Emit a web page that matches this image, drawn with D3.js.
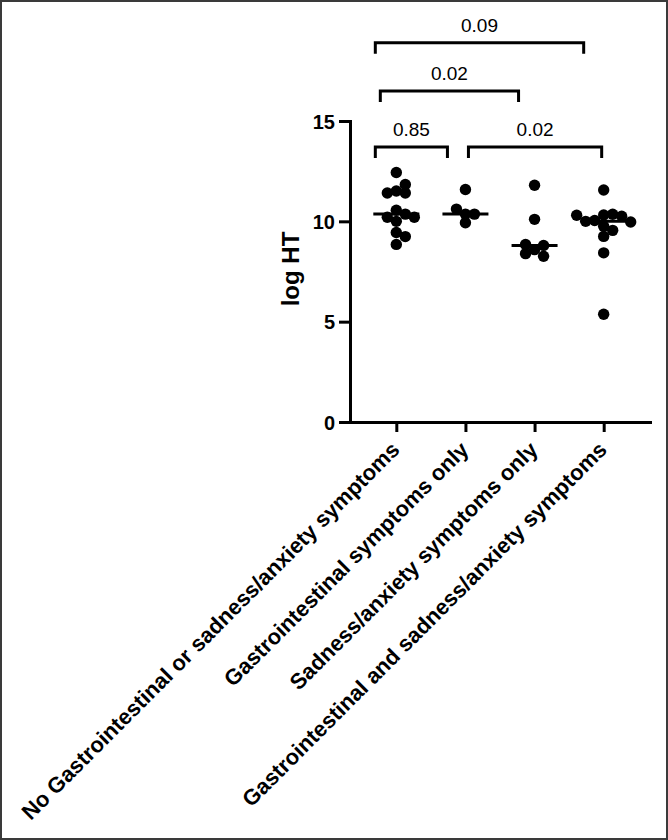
<!DOCTYPE html>
<html>
<head>
<meta charset="utf-8">
<title>log HT by symptom group</title>
<script src="https://d3js.org/d3.v7.min.js"></script>
<style>
	body { margin: 0; background: #fff; }
	svg { display: block; }
	text { font-family: "Liberation Sans", Arial, sans-serif; fill: #000; }
</style>
</head>
<body>
<div id="chart"></div>
<script>

// categories along the x axis
var categories = [
	"No Gastrointestinal or sadness/anxiety symptoms",
	"Gastrointestinal symptoms only",
	"Sadness/anxiety symptoms only",
	"Gastrointestinal and sadness/anxiety symptoms"
];

// log HT values per group (entry order)
var noSymptoms   = [12.43, 11.51, 11.41, 11.41, 11.84, 10.0, 10.36, 10.55, 10.2, 10.2, 9.44, 9.24, 8.85];
var giOnly       = [11.59, 10.36, 10.36, 10.61, 9.93];
var anxietyOnly  = [11.8, 10.1, 8.59, 8.80, 8.85, 8.39, 8.26];
var bothSymptoms = [11.56, 10.32, 10.35, 10.04, 10.25, 10.0, 9.97, 9.75, 9.55, 9.25, 8.43, 5.37, 10.3];

var groups = [noSymptoms, giOnly, anxietyOnly, bothSymptoms];

var yTicks = [0, 5, 10, 15];

// comparisons (group index pairs), p values and bracket height in log HT units
var pairs = [[0, 1], [1, 3], [0, 2], [0, 3]];
var pValues = ["0.85", "0.02", "0.02", "0.09"];
var bracketLevels = [13.7, 13.7, 16.5, 18.9];

// ---- layout ----
var W = 668, H = 840;

var svg = d3.select("#chart").append("svg")
	.attr("width", W)
	.attr("height", H);

// outer frame
svg.append("rect")
	.attr("x", 1).attr("y", 1)
	.attr("width", W - 2).attr("height", H - 2)
	.attr("fill", "#fff")
	.attr("stroke", "#3a3a3a")
	.attr("stroke-width", 2);

var x = d3.scalePoint()
	.domain(categories)
	.range([350, 650])
	.padding(0.67);

var y = d3.scaleLinear()
	.domain([0, 15])
	.range([422, 121]);

// y axis
var yAxis = svg.append("g")
	.attr("transform", "translate(350,0)")
	.call(d3.axisLeft(y).tickValues(yTicks).tickSize(11).tickSizeOuter(0).tickPadding(4));

// x axis
var xAxis = svg.append("g")
	.attr("transform", "translate(0,422)")
	.call(d3.axisBottom(x).tickSize(10).tickSizeOuter(0));

[yAxis, xAxis].forEach(function(ax) {
	ax.attr("font-family", null).attr("font-size", null);
	ax.selectAll("path, line").attr("stroke", "#000").attr("stroke-width", 3);
	ax.select(".domain").attr("stroke-linecap", "square");
});

yAxis.selectAll("text")
	.style("font-size", "20px")
	.style("font-weight", "bold")
	.attr("dy", "0.36em");

xAxis.selectAll("text")
	.style("font-size", "22px")
	.style("font-weight", "bold")
	.attr("text-anchor", "end")
	.attr("x", 4)
	.attr("y", 29)
	.attr("dy", 0)
	.attr("transform", "rotate(-45,4,29)");

// y label
svg.append("text")
	.attr("transform", "translate(299,269) rotate(-90)")
	.attr("text-anchor", "middle")
	.style("font-size", "24px")
	.style("font-weight", "bold")
	.text("log HT");

// simple swarm: place each point at the nearest free horizontal slot
function swarm(vals, cx) {
	var step = 9, minDist = 8.5, placed = [];
	vals.forEach(function(v) {
		var py = y(v);
		for (var k = 0; k < 40; k++) {
			var n = Math.ceil(k / 2) * (k % 2 ? 1 : -1);
			var px = cx + n * step;
			var ok = placed.every(function(p) {
				return Math.hypot(p.x - px, p.y - py) >= minDist;
			});
			if (ok) { placed.push({x: px, y: py}); break; }
		}
	});
	return placed;
}

groups.forEach(function(vals, i) {
	var cx = x(categories[i]);
	var pts = swarm(vals, cx);

	svg.append("g").selectAll("circle")
		.data(pts)
		.enter()
		.append("circle")
			.attr("cx", function(d) { return d.x; })
			.attr("cy", function(d) { return d.y; })
			.attr("r", 5.7)
			.attr("fill", "#000");

	// median line
	var m = d3.median(vals);
	svg.append("line")
		.attr("x1", cx - 23).attr("x2", cx + 23)
		.attr("y1", y(m)).attr("y2", y(m))
		.attr("stroke", "#000")
		.attr("stroke-width", 3);
});

// significance brackets (small end offsets so brackets do not touch)
var bracketInset = [[-21, -18], [3, -2], [-16, -16], [-21, -20]];

pairs.forEach(function(pr, i) {
	var x1 = x(categories[pr[0]]) + bracketInset[i][0];
	var x2 = x(categories[pr[1]]) + bracketInset[i][1];
	var yl = y(bracketLevels[i]);

	svg.append("path")
		.attr("d", "M" + x1 + "," + (yl + 11) + "V" + yl + "H" + x2 + "V" + (yl + 11))
		.attr("fill", "none")
		.attr("stroke", "#000")
		.attr("stroke-width", 3);

	svg.append("text")
		.attr("x", (x1 + x2) / 2)
		.attr("y", yl - 11)
		.attr("text-anchor", "middle")
		.style("font-size", "19px")
		.text(pValues[i]);
});

</script>
</body>
</html>
